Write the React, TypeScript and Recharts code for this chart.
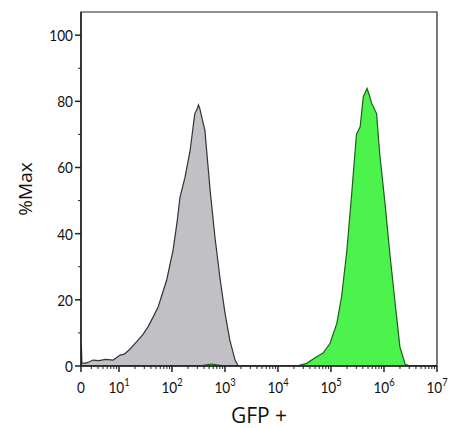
import React from "react";
import { ComposedChart, Area, XAxis, YAxis, ReferenceArea } from "recharts";

// x positions are in "decade units": 1 = 10^1, 2 = 10^2 ... ; 0.283 is the "0" of the biex scale
const ZERO_POS = 0.283;

const grayU = [0.283, 0.29, 0.3, 0.32, 0.4, 0.51, 0.62, 0.75, 0.89, 1.02, 1.1, 1.2, 1.33, 1.45, 1.55, 1.65, 1.74, 1.82, 1.9, 2.02, 2.1, 2.15, 2.245, 2.34, 2.43, 2.47, 2.5, 2.53, 2.56, 2.62, 2.72, 2.81, 2.91, 3.0, 3.09, 3.19, 3.25, 7];
const grayPct = [0, 6.3, 1.0, 0.8, 1.0, 1.8, 1.6, 2.0, 1.8, 3.3, 3.6, 5.0, 7.3, 9.5, 11.9, 15, 17.9, 22, 26, 35, 44, 51, 57, 65, 76.3, 77.5, 78.9, 77.5, 75.3, 71.3, 53, 39, 26, 16, 7.9, 1.8, 0, 0];

const greenU = [0.283, 2.5, 2.75, 3.0, 3.3, 4.35, 4.54, 4.73, 4.85, 4.98, 5.11, 5.2, 5.3, 5.39, 5.48, 5.55, 5.61, 5.68, 5.72, 5.77, 5.86, 5.92, 6.02, 6.11, 6.21, 6.3, 6.4, 6.49, 7];
const greenPct = [0, 0, 0.6, 0, 0, 0, 0.8, 2.8, 3.9, 6.8, 12.9, 21, 35, 52, 70, 72.3, 81.4, 83.9, 82, 79.3, 76.3, 64, 49, 34, 19, 5.8, 0.5, 0, 0];

const majorX = [ZERO_POS, 1, 2, 3, 4, 5, 6, 7];
const minorMultipliers = [3, 4, 5, 6, 7, 8, 9];
const yMajor = [0, 20, 40, 60, 80, 100];
const yMinor = [10, 30, 50, 70, 90];

const grayData = grayU.map((u, i) => ({ u, v: grayPct[i] }));
const greenData = greenU.map((u, i) => ({ u, v: greenPct[i] }));

const minorX: number[] = [];
for (let d = 0; d < 7; d++) {
  const mults = d === 0 ? minorMultipliers : [2, ...minorMultipliers];
  mults.forEach((m) => minorX.push(d + Math.log10(m)));
}
const xTicks = [...majorX, ...minorX].sort((a, b) => a - b);
const yTicks = [...yMajor, ...yMinor].sort((a, b) => a - b);

const TICK_FONT = "Lato, sans-serif";
const TITLE_FONT = "'Open Sans', sans-serif";

const XTick = (props: any) => {
  const { x, y, payload } = props;
  const val = payload.value;
  const isMajor = majorX.some((m) => Math.abs(m - val) < 1e-6);
  if (!isMajor) {
    return <line x1={x} x2={x} y1={y} y2={y + 3} stroke="#222" strokeWidth={1} />;
  }
  return (
    <g>
      <line x1={x} x2={x} y1={y} y2={y + 6} stroke="#222" strokeWidth={1.5} />
      <g transform={`translate(${x},${y + 27}) scale(0.85,1)`}>
        {val === ZERO_POS ? (
          <text x={0} y={0} textAnchor="middle" fontSize={16} fontFamily={TICK_FONT} fill="#111">0</text>
        ) : (
          <text x={0} y={0} textAnchor="middle" fontSize={16} fontFamily={TICK_FONT} fill="#111">
            <tspan>10</tspan>
            <tspan dy={-7} fontSize={11}>{val}</tspan>
          </text>
        )}
      </g>
    </g>
  );
};

const YTick = (props: any) => {
  const { x, y, payload } = props;
  const val = payload.value;
  if (!yMajor.includes(val)) {
    return <line x1={x} x2={x - 3} y1={y} y2={y} stroke="#222" strokeWidth={1} />;
  }
  return (
    <g>
      <line x1={x} x2={x - 6} y1={y} y2={y} stroke="#222" strokeWidth={1.5} />
      <g transform={`translate(${x - 8},${y + 6}) scale(0.85,1)`}>
        <text x={0} y={0} textAnchor="end" fontSize={16} fontFamily={TICK_FONT} fill="#111">{val}</text>
      </g>
    </g>
  );
};

const YLabel = (props: any) => {
  const { viewBox } = props;
  const cx = 19;
  const cy = viewBox.y + viewBox.height / 2;
  return (
    <text x={cx} y={cy} transform={`rotate(-90 ${cx} ${cy})`} textAnchor="middle" dominantBaseline="middle" fontSize={19} fontFamily={TITLE_FONT} fill="#111">
      %Max
    </text>
  );
};

const XLabel = (props: any) => {
  const { viewBox } = props;
  const cx = viewBox.x + viewBox.width / 2;
  return (
    <text x={cx} y={415} textAnchor="middle" fontSize={21} fontFamily={TITLE_FONT} fill="#111">
      GFP +
    </text>
  );
};

export default function App() {
  // body margin moved into our own padding so the root spans the full 449x428 page
  return (
    <div style={{ width: 441, height: 420, padding: "8px 0 0 8px" }}>
      <style>{"body{margin:0;overflow:hidden}"}</style>
      <ComposedChart width={441} height={420} margin={{ top: 4, right: 12, left: 0, bottom: 0 }} style={{ overflow: "visible" }}>
        <XAxis
          dataKey="u"
          type="number"
          domain={[ZERO_POS, 7]}
          ticks={xTicks}
          tick={<XTick />}
          tickLine={false}
          tickSize={0}
          tickMargin={0}
          interval={0}
          height={62}
          axisLine={{ stroke: "#222", strokeWidth: 1.5 }}
          allowDataOverflow
          label={<XLabel />}
        />
        <YAxis
          type="number"
          domain={[0, 107]}
          ticks={yTicks}
          tick={<YTick />}
          tickLine={false}
          tickSize={0}
          tickMargin={0}
          interval={0}
          width={73}
          axisLine={{ stroke: "#222", strokeWidth: 1.5 }}
          allowDataOverflow
          label={<YLabel />}
        />
        <Area
          data={grayData}
          dataKey="v"
          type="linear"
          stroke="#333"
          strokeWidth={1.2}
          fill="#c1c0c5"
          fillOpacity={1}
          isAnimationActive={false}
          dot={false}
          activeDot={false}
        />
        <Area
          data={greenData}
          dataKey="v"
          type="linear"
          stroke="#1d5e1d"
          strokeWidth={1.2}
          fill="#4cf34c"
          fillOpacity={1}
          isAnimationActive={false}
          dot={false}
          activeDot={false}
        />
        <ReferenceArea x1={ZERO_POS} x2={7} y1={0} y2={107} fill="none" fillOpacity={0} stroke="#222" strokeWidth={1.2} ifOverflow="visible" />
      </ComposedChart>
    </div>
  );
}
